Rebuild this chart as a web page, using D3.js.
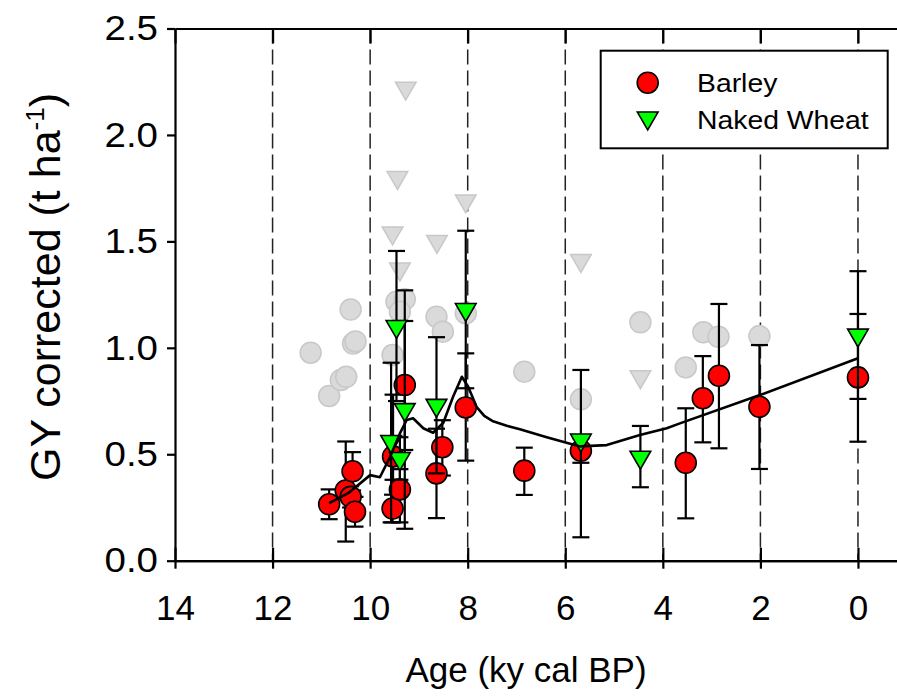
<!DOCTYPE html>
<html><head><meta charset="utf-8">
<script src="https://cdn.jsdelivr.net/npm/d3@7"></script>
<style>body{margin:0;background:#fff}svg{display:block}text{font-family:Arial,"Liberation Sans",sans-serif}</style>
</head><body><svg id="c" width="897" height="696"></svg>
<script>
// Barley (corrected): age, value, lower, upper
const barleyAge = [10.84,10.50,10.40,10.36,10.31,9.54,9.53,9.39,9.29,8.64,8.52,8.04,6.84,5.68,3.53,3.18,2.85,2.02,0.0];
const barleyVal = [0.265,0.33,0.30,0.42,0.23,0.245,0.49,0.335,0.825,0.41,0.533,0.72,0.423,0.517,0.46,0.763,0.869,0.723,0.861];
const barleyLo  = [0.195,0.09,0.25,0.33,0.16,0.18,0.38,0.18,0.52,0.20,0.40,0.47,0.309,0.46,0.199,0.556,0.528,0.431,0.559];
const barleyHi  = [0.335,0.56,0.35,0.51,0.30,0.31,0.78,0.43,1.126,0.62,0.66,0.974,0.531,0.575,0.716,0.961,1.206,1.013,1.159];
// Naked wheat (corrected)
const wheatAge = [9.57,9.46,9.39,9.29,8.64,8.04,5.68,4.46,0.0];
const wheatVal = [0.56,1.10,0.48,0.71,0.73,1.18,0.567,0.486,1.06];
const wheatLo  = [0.18,0.75,0.38,0.15,0.41,0.81,0.11,0.345,0.76];
const wheatHi  = [0.93,1.455,0.58,1.27,1.05,1.55,0.896,0.633,1.36];
// Uncorrected values (grey)
const greyBarleyAge = [11.22,10.84,10.60,10.49,10.40,10.35,10.30,9.54,9.46,9.29,9.39,8.64,8.51,8.04,6.84,5.68,4.46,3.53,3.17,2.86,2.02];
const greyBarleyVal = [0.977,0.774,0.849,0.864,1.18,1.02,1.03,0.966,1.217,1.228,1.17,1.146,1.076,1.162,0.888,0.758,1.12,0.908,1.073,1.052,1.055];
const greyWheatAge = [9.27,9.44,9.54,9.39,8.63,8.04,5.68,4.46];
const greyWheatVal = [2.22,1.80,1.54,1.37,1.50,1.69,1.41,0.864];
// Fitted curve
const curveAge = [10.84,10.45,10.0,9.80,9.59,9.39,9.25,9.12,8.91,8.71,8.50,8.30,8.12,7.99,7.82,7.66,7.48,7.20,6.93,6.38,5.90,5.70,5.15,4.47,3.92,3.65,2.01,0.0];
const curveVal = [0.270,0.317,0.402,0.392,0.488,0.598,0.661,0.669,0.622,0.601,0.648,0.770,0.864,0.817,0.723,0.680,0.655,0.634,0.618,0.580,0.549,0.537,0.543,0.590,0.622,0.645,0.778,0.951];
const xTicks = [14,12,10,8,6,4,2,0];
const yTicks = [0,0.5,1.0,1.5,2.0,2.5];
const legendLabels = ["Barley","Naked Wheat"];

const svg = d3.select("#c");
const x = d3.scaleLinear().domain([14,-0.8]).range([175,897]);
const y = d3.scaleLinear().domain([0,2.5]).range([560.7,28.5]);
function stretch(sel, k){ sel.each(function(){ const w=this.getComputedTextLength(); this.setAttribute("textLength", w*k); this.setAttribute("lengthAdjust","spacingAndGlyphs"); }); }

// dashed grid
svg.append("g").selectAll("line").data(xTicks.filter(d=>d!==14)).join("line")
  .attr("x1",d=>x(d)).attr("x2",d=>x(d)).attr("y1",y(2.5)).attr("y2",y(0))
  .attr("stroke","#222").attr("stroke-width",1.5).attr("stroke-dasharray","15,6");

// grey markers
const tri = d3.symbol().type(d3.symbolTriangle).size(185);
svg.append("g").selectAll("circle").data(greyBarleyAge.map((a,i)=>[a,greyBarleyVal[i]])).join("circle")
  .attr("cx",d=>x(d[0])).attr("cy",d=>y(d[1])).attr("r",10.5)
  .attr("fill","#dadada").attr("stroke","#c8c8c8").attr("stroke-width",1.5);
svg.append("g").selectAll("path").data(greyWheatAge.map((a,i)=>[a,greyWheatVal[i]])).join("path")
  .attr("d",tri).attr("transform",d=>`translate(${x(d[0])},${y(d[1])}) rotate(180)`)
  .attr("fill","#dadada").attr("stroke","#c8c8c8").attr("stroke-width",1.5);

function errBars(ages, lo, hi){
  const g = svg.append("g").attr("stroke","#000").attr("stroke-width",2.2);
  const d = ages.map((a,i)=>[a,lo[i],hi[i]]);
  g.selectAll(".v").data(d).join("line").attr("x1",e=>x(e[0])).attr("x2",e=>x(e[0])).attr("y1",e=>y(e[1])).attr("y2",e=>y(e[2]));
  g.selectAll(".l").data(d).join("line").attr("x1",e=>x(e[0])-8.5).attr("x2",e=>x(e[0])+8.5).attr("y1",e=>y(e[1])).attr("y2",e=>y(e[1]));
  g.selectAll(".h").data(d).join("line").attr("x1",e=>x(e[0])-8.5).attr("x2",e=>x(e[0])+8.5).attr("y1",e=>y(e[2])).attr("y2",e=>y(e[2]));
}
errBars(barleyAge, barleyLo, barleyHi);
svg.append("g").selectAll("circle").data(barleyAge.map((a,i)=>[a,barleyVal[i]])).join("circle")
  .attr("cx",d=>x(d[0])).attr("cy",d=>y(d[1])).attr("r",10.5)
  .attr("fill","#ff0000").attr("stroke","#000").attr("stroke-width",1.6);
errBars(wheatAge, wheatLo, wheatHi);
svg.append("g").selectAll("path").data(wheatAge.map((a,i)=>[a,wheatVal[i]])).join("path")
  .attr("d",tri).attr("transform",d=>`translate(${x(d[0])},${y(d[1])}) rotate(180)`)
  .attr("fill","#00ff00").attr("stroke","#000").attr("stroke-width",1.6);

// curve
svg.append("path").datum(curveAge.map((a,i)=>[a,curveVal[i]]))
  .attr("d",d3.line().x(d=>x(d[0])).y(d=>y(d[1])))
  .attr("fill","none").attr("stroke","#000").attr("stroke-width",2.6).attr("stroke-linejoin","round");

// axes
const fmt1 = d3.format(".1f");
const gx = svg.append("g").attr("transform",`translate(0,${y(0)})`)
  .call(d3.axisBottom(x).tickValues(xTicks).tickFormat(d3.format("d")).tickSize(8).tickSizeOuter(0).tickPadding(26));
svg.append("g").attr("transform",`translate(0,${y(0)})`)
  .call(d3.axisBottom(x).tickValues(xTicks).tickFormat("").tickSize(-13).tickSizeOuter(0));
svg.append("g").attr("transform",`translate(0,${y(2.5)})`)
  .call(d3.axisTop(x).tickValues(xTicks).tickFormat("").tickSize(-15).tickSizeOuter(0));
const gy = svg.append("g").attr("transform",`translate(${x(14)},0)`)
  .call(d3.axisLeft(y).tickValues(yTicks).tickFormat(fmt1).tickSize(8).tickSizeOuter(0).tickPadding(9));
svg.selectAll(".domain, .tick line").attr("stroke","#000").attr("stroke-width",2.2);
svg.selectAll(".tick text").attr("font-size",35).attr("fill","#000").attr("font-family","Arial, 'Liberation Sans', sans-serif");
gy.selectAll(".tick text").call(stretch, 1.1);

// titles
svg.append("text").attr("x",526).attr("y",682).attr("text-anchor","middle").attr("font-size",35)
  .text("Age (ky cal BP)");
const yt = svg.append("text").attr("transform","translate(60,287) rotate(-90)").attr("text-anchor","middle").attr("font-size",43);
yt.append("tspan").text("GY corrected (t ha");
yt.append("tspan").attr("dy",-16).attr("font-size",26).text("-1");
yt.append("tspan").attr("dy",16).text(")");

// legend
const lg = svg.append("g");
lg.append("rect").attr("x",600.7).attr("y",50.7).attr("width",287).attr("height",97.6)
  .attr("fill","#fff").attr("stroke","#000").attr("stroke-width",2);
lg.append("circle").attr("cx",647.7).attr("cy",82.7).attr("r",10.5).attr("fill","#ff0000").attr("stroke","#000").attr("stroke-width",1.6);
lg.append("path").attr("d",tri).attr("transform","translate(647.7,118) rotate(180)").attr("fill","#00ff00").attr("stroke","#000").attr("stroke-width",1.6);
lg.selectAll("text").data(legendLabels).join("text").attr("x",697).attr("y",(d,i)=>92+i*37)
  .attr("font-size",26).text(d=>d).call(stretch, 1.09);
</script></body></html>
